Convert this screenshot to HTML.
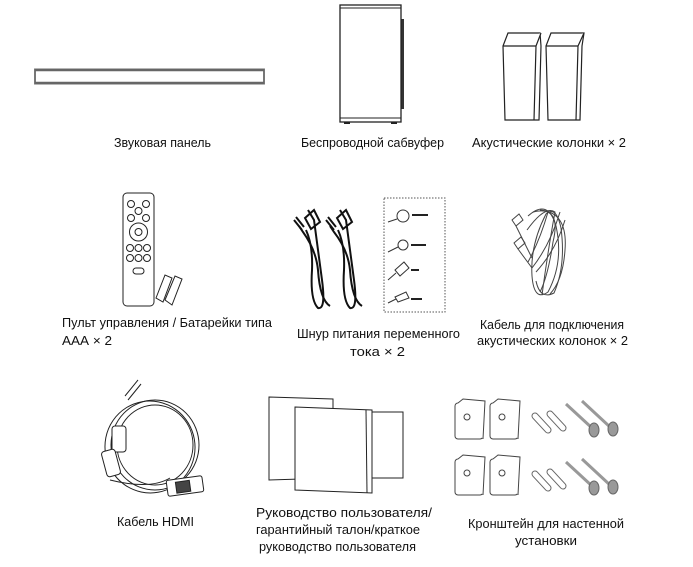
<!DOCTYPE html>
<html><head><meta charset="utf-8"><style>
html,body{margin:0;padding:0;background:#fff}
svg{display:block}
text{font-family:"Liberation Sans Narrow","Liberation Sans",sans-serif;font-size:12.5px;fill:#111}
</style></head><body>
<svg width="693" height="567" viewBox="0 0 693 567" xmlns="http://www.w3.org/2000/svg">
<!-- soundbar -->
<rect x="35" y="69.5" width="229" height="14" fill="#fff" stroke="#777" stroke-width="2"/>
<line x1="35" y1="70" x2="264" y2="70" stroke="#666" stroke-width="2.5"/>
<line x1="35" y1="83" x2="264" y2="83" stroke="#666" stroke-width="2.5"/>
<!-- subwoofer -->
<rect x="400" y="19" width="4" height="90" fill="#333"/>
<rect x="340" y="5" width="61" height="117" fill="#fff" stroke="#222" stroke-width="1.3"/>
<line x1="340" y1="8" x2="401" y2="8" stroke="#222"/>
<line x1="340" y1="118" x2="401" y2="118" stroke="#222"/>
<rect x="344" y="122" width="6" height="2" fill="#222"/><rect x="391" y="122" width="6" height="2" fill="#222"/>
<!-- speakers -->
<g fill="#fff" stroke="#222" stroke-width="1.2">
<path d="M503 46 L508 33 L540 33 L541 46 L539 120 L505 120 Z"/>
<path d="M503 46 L536 46 L541 33 M536 46 L534 120"/>
<path d="M546 46 L551 33 L584 33 L582 46 L580 120 L548 120 Z"/>
<path d="M546 46 L578 46 L584 33 M578 46 L576 120"/>
</g>
<text x="114" y="147" textLength="97" lengthAdjust="spacingAndGlyphs">Звуковая панель</text>
<text x="301" y="147" textLength="143" lengthAdjust="spacingAndGlyphs">Беспроводной сабвуфер</text>
<text x="472" y="147" textLength="154" lengthAdjust="spacingAndGlyphs">Акустические колонки × 2</text>
<!-- remote -->
<g fill="#fff" stroke="#222" stroke-width="1">
<rect x="123" y="193" width="31" height="113" rx="4"/>
<circle cx="131" cy="204" r="3.5"/><circle cx="146" cy="204" r="3.5"/>
<circle cx="138.5" cy="211" r="3.5"/><circle cx="131" cy="218" r="3.5"/><circle cx="146" cy="218" r="3.5"/>
<circle cx="138.5" cy="232" r="9"/><circle cx="138.5" cy="232" r="3.5"/>
<circle cx="130" cy="248" r="3.5"/><circle cx="138.5" cy="248" r="3.5"/><circle cx="147" cy="248" r="3.5"/>
<circle cx="130" cy="258" r="3.5"/><circle cx="138.5" cy="258" r="3.5"/><circle cx="147" cy="258" r="3.5"/>
<rect x="133" y="268" width="11" height="6" rx="3"/>
<path d="M156 298 L165 275 L172 278 L163 302 Z M165 300 L175 276 L182 279 L172 305 Z"/>
</g>
<!-- power cords -->
<g fill="none" stroke="#111" stroke-width="2">
<path d="M308 210 L314 220 Q318 250 322 280 Q326 310 318 308 Q310 300 312 270 Q313 245 306 230"/>
<path d="M299 226 L303 232 Q316 250 318 270 Q320 300 330 306"/>
<path d="M340 210 L346 220 Q350 250 354 280 Q358 310 350 308 Q342 300 344 270 Q345 245 338 230"/>
<path d="M330 226 L334 232 Q348 250 350 270 Q352 300 362 306"/>
<path d="M305 218 L314 210 L320 222 L311 229 Z M337 218 L346 210 L352 222 L343 229 Z"/>
<path d="M294 220 L302 230 M296 217 L304 227 M326 220 L334 230 M328 217 L336 227"/>
</g>
<rect x="384" y="198" width="61" height="114" fill="none" stroke="#555" stroke-dasharray="1.5,1.5"/>
<g fill="none" stroke="#333" stroke-width="1">
<circle cx="403" cy="216" r="6"/><path d="M388 222 Q394 220 397 219"/>
<circle cx="403" cy="245" r="5"/><path d="M388 252 Q394 249 398 247"/>
<path d="M395 270 L404 262 L409 268 L400 276 Z M388 280 L396 273"/>
<path d="M395 297 L406 292 L409 298 L398 302 Z M388 303 L396 299"/>
</g>
<g fill="#222"><rect x="412" y="214" width="16" height="2"/><rect x="411" y="244" width="15" height="2"/><rect x="411" y="269" width="8" height="2"/><rect x="411" y="298" width="11" height="2"/></g>
<!-- speaker cable -->
<g fill="none" stroke="#444" stroke-width="1">
<path d="M512 220 L519 214 L523 220 L516 226 Z M516 226 L532 258"/>
<path d="M514 243 L521 237 L525 243 L518 249 Z M518 249 L532 268"/>
<path d="M528 216 Q548 198 556 226 Q564 262 548 292 Q534 302 532 276 Q530 245 546 214 Q556 205 561 228 Q566 266 554 293 Q540 300 536 281"/>
<path d="M533 212 Q562 205 553 242 Q548 276 540 292 M540 210 Q568 212 565 250 Q563 280 550 294"/>
<path d="M528 262 Q540 240 548 212 M532 268 Q550 245 560 212 M536 272 Q556 250 565 220"/>
<path d="M527 230 Q545 205 555 212 Q548 250 542 295"/>
</g>
<text x="62" y="327" textLength="210" lengthAdjust="spacingAndGlyphs">Пульт управления / Батарейки типа</text>
<text x="62" y="345" textLength="50" lengthAdjust="spacingAndGlyphs">ААА × 2</text>
<text x="297" y="338" textLength="163" lengthAdjust="spacingAndGlyphs">Шнур питания переменного</text>
<text x="350" y="356" textLength="55" lengthAdjust="spacingAndGlyphs">тока × 2</text>
<text x="480" y="329" textLength="144" lengthAdjust="spacingAndGlyphs">Кабель для подключения</text>
<text x="477" y="345" textLength="151" lengthAdjust="spacingAndGlyphs">акустических колонок × 2</text>
<!-- HDMI -->
<g fill="none" stroke="#222" stroke-width="1">
<path d="M125 396 L138 380 M128 400 L141 384"/>
<ellipse cx="155" cy="445" rx="44" ry="45"/>
<ellipse cx="155" cy="445" rx="38" ry="40"/>
<ellipse cx="150" cy="447" rx="45" ry="46" transform="rotate(-10 150 447)"/>
<path d="M110 480 Q150 490 170 478"/>
<rect x="112" y="426" width="14" height="26" rx="3" fill="#fff"/>
<rect x="104" y="450" width="14" height="26" rx="3" fill="#fff" transform="rotate(-15 111 463)"/>
<rect x="167" y="478" width="36" height="16" rx="2" fill="#fff" transform="rotate(-8 185 486)"/>
<rect x="176" y="481" width="14" height="11" fill="#444" transform="rotate(-8 185 486)"/>
</g>
<!-- papers -->
<g fill="#fff" stroke="#222" stroke-width="1">
<rect x="372" y="412" width="31" height="66"/>
<path d="M269 397 L333 399 L333 478 L269 480 Z"/>
<path d="M295 407 L372 410 L372 493 L295 490 Z"/>
<line x1="366" y1="410" x2="367" y2="493"/>
</g>
<!-- brackets -->
<g fill="#fff" stroke="#444" stroke-width="1">
<rect x="455" y="403" width="28" height="36" rx="3"/><path d="M458 403 L463 399 L485 401 L483 439"/><circle cx="467" cy="417" r="3"/>
<rect x="490" y="403" width="28" height="36" rx="3"/><path d="M493 403 L498 399 L520 401 L518 439"/><circle cx="502" cy="417" r="3"/>
<rect x="455" y="459" width="28" height="36" rx="3"/><path d="M458 459 L463 455 L485 457 L483 495"/><circle cx="467" cy="473" r="3"/>
<rect x="490" y="459" width="28" height="36" rx="3"/><path d="M493 459 L498 455 L520 457 L518 495"/><circle cx="502" cy="473" r="3"/>
</g>
<g stroke="#666" stroke-linecap="round">
<line x1="535" y1="416" x2="548" y2="430" stroke-width="7"/><line x1="550" y1="414" x2="563" y2="428" stroke-width="7"/>
<line x1="535" y1="474" x2="548" y2="488" stroke-width="7"/><line x1="550" y1="472" x2="563" y2="486" stroke-width="7"/>
</g>
<g stroke="#fff" stroke-linecap="round">
<line x1="535" y1="416" x2="548" y2="430" stroke-width="5"/><line x1="550" y1="414" x2="563" y2="428" stroke-width="5"/>
<line x1="535" y1="474" x2="548" y2="488" stroke-width="5"/><line x1="550" y1="472" x2="563" y2="486" stroke-width="5"/>
</g>
<g stroke="#999" stroke-width="3">
<line x1="566" y1="404" x2="592" y2="428"/><line x1="582" y1="401" x2="610" y2="427"/>
<line x1="566" y1="462" x2="592" y2="486"/><line x1="582" y1="459" x2="610" y2="485"/>
</g>
<g fill="#999" stroke="#666">
<ellipse cx="594" cy="430" rx="5" ry="7"/><ellipse cx="613" cy="429" rx="5" ry="7"/>
<ellipse cx="594" cy="488" rx="5" ry="7"/><ellipse cx="613" cy="487" rx="5" ry="7"/>
</g>
<text x="117" y="526" textLength="77" lengthAdjust="spacingAndGlyphs">Кабель HDMI</text>
<text x="256" y="517" textLength="176" lengthAdjust="spacingAndGlyphs">Руководство пользователя/</text>
<text x="256" y="534" textLength="164" lengthAdjust="spacingAndGlyphs">гарантийный талон/краткое</text>
<text x="259" y="551" textLength="157" lengthAdjust="spacingAndGlyphs">руководство пользователя</text>
<text x="468" y="528" textLength="156" lengthAdjust="spacingAndGlyphs">Кронштейн для настенной</text>
<text x="515" y="545" textLength="62" lengthAdjust="spacingAndGlyphs">установки</text>
</svg>
</body></html>
